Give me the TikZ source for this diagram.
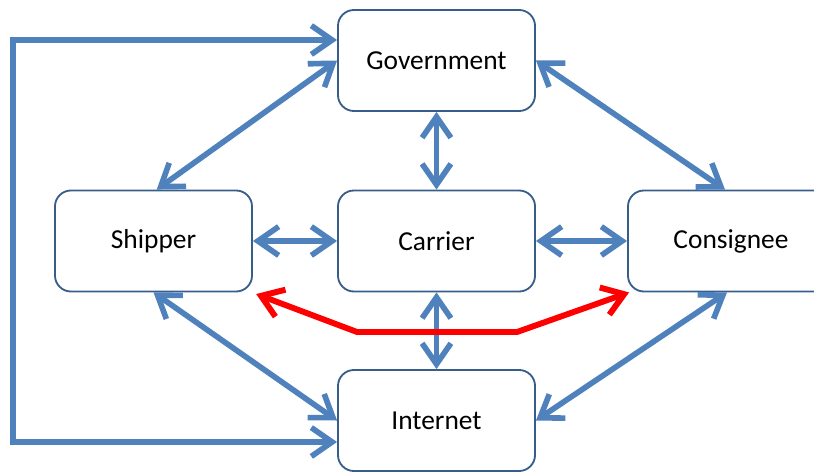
\documentclass[tikz,border=0pt]{standalone}
\usepackage{fontspec}
\setmainfont{Carlito}
\usetikzlibrary{arrows.meta}
\definecolor{flowblue}{HTML}{4F81BD}
\definecolor{boxedge}{HTML}{385D8A}
\definecolor{alertred}{HTML}{FF0000}
\begin{document}
\begin{tikzpicture}[x=0.025cm,y=-0.025cm,
        party/.style={draw=boxedge,line width=1.3pt,rounded corners=0.4cm,
            minimum width=4.925cm,minimum height=2.525cm,inner sep=0pt,
            font=\fontsize{19.5}{23}\selectfont},
        barb/.tip={Straight Barb[length=0.52cm,width=0.72cm]},
        link/.style={flowblue,line width=4pt,barb-barb},
        redlink/.style={alertred,line width=4.2pt,barb-barb}]
        \useasboundingbox (0,0) rectangle (814,473);

        \node[party] (gov) at (436.5,60.5) {Government};
        \node[party] (carrier) at (436.5,241) {Carrier};
        \node[party] (shipper) at (153.5,241) {Shipper};
        \node[party,minimum width=5.15cm] (consignee) at (731,241) {Consignee};
        \node[party] (internet) at (436.5,420.5) {Internet};

        \coordinate (fbtop) at (13,40);
        \coordinate (fbbot) at (13,442);
        \coordinate (redl) at (357,332);
        \coordinate (redr) at (517,332);

        \draw[link] (fbtop -| gov.west) -- (fbtop) -- (fbbot) -- (fbbot -| internet.west);

        \draw[link] (gov.west) -- ([xshift=0.08cm]shipper.north);
        \draw[link] (gov.east) -- ([xshift=-0.15cm]consignee.north);
        \draw[link] (gov.south) -- (carrier.north);
        \draw[link] (shipper.east) -- (carrier.west);
        \draw[link] (carrier.east) -- (consignee.west);
        \draw[link] (carrier.south) -- (internet.north);
        \draw[link] (shipper.south) -- (internet.west);
        \draw[link] ([xshift=-0.1cm]consignee.south) -- (internet.east);

        \draw[redlink] ([xshift=0.08cm,yshift=-0.04cm]shipper.south east) -- (redl) -- (redr) -- ([xshift=0.05cm]consignee.south west);
\end{tikzpicture}
\end{document}
